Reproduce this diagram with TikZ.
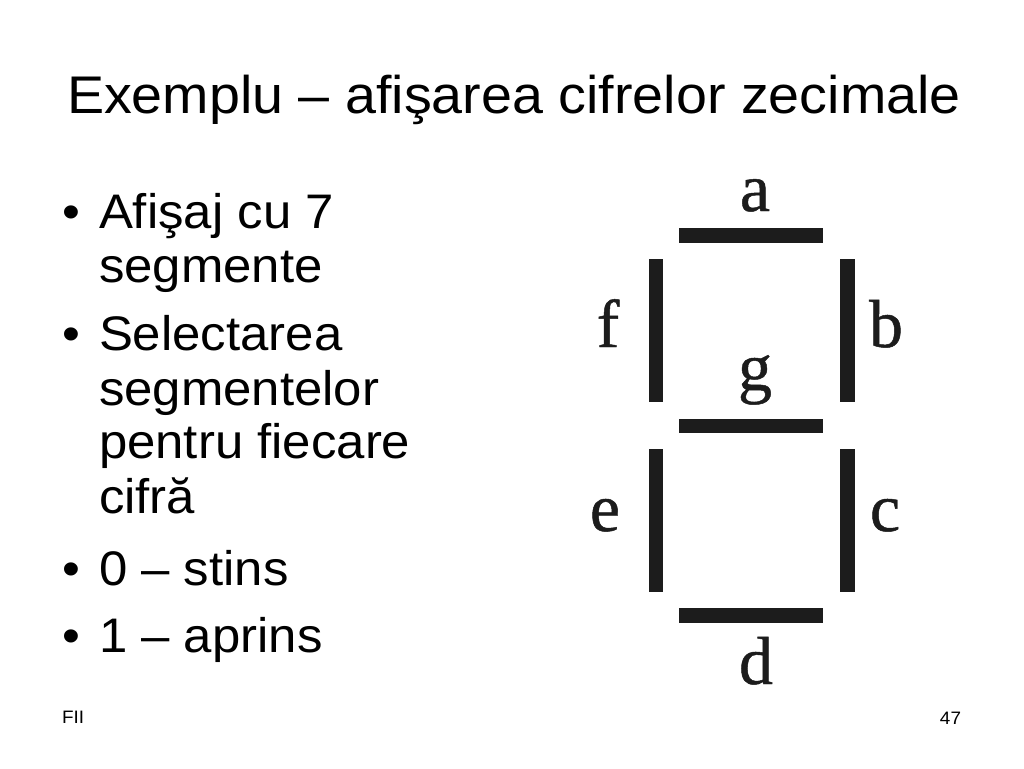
\documentclass[tikz,border=0pt]{standalone}
\usepackage{fontspec}
\setmainfont[FakeStretch=1.05]{Liberation Sans}
\newfontfamily\segfont[FakeBold=0.7]{Liberation Serif}
\definecolor{segcol}{HTML}{1C1C1C}
\begin{document}
\begin{tikzpicture}[x=1pt,y=-1pt,
  txt/.style={inner sep=0pt,outer sep=0pt,anchor=base west,font=\fontsize{48.5}{55}\selectfont},
  bul/.style={inner sep=0pt,outer sep=0pt,anchor=base,font=\fontsize{48.5}{55}\selectfont},
  seglbl/.style={inner sep=0pt,outer sep=0pt,anchor=base,text=segcol,font=\segfont\fontsize{68}{72}\selectfont},
  segbar/.style={fill=segcol,draw=none},
  foot/.style={inner sep=0pt,outer sep=0pt,font=\fontsize{18}{20}\selectfont}]
\useasboundingbox[fill=white] (0,0) rectangle (1024,768);
% title
\node[inner sep=0pt,outer sep=0pt,anchor=base west,font=\fontsize{53}{60}\selectfont] (title) at (67,113) {Exemplu – afişarea cifrelor zecimale};
% bullets
\node[bul] (b1) at (71,228) {•};
\node[txt] (l1) at (99,228) {Afişaj cu 7};
\node[txt] (l2) at (99,282) {segmente};
\node[bul] (b2) at (71,350) {•};
\node[txt] (l3) at (99,350) {Selectarea};
\node[txt] (l4) at (99,405) {segmentelor};
\node[txt] (l5) at (99,458) {pentru fiecare};
\node[txt] (l6) at (99,513) {cifră};
\node[bul] (b3) at (71,585) {•};
\node[txt] (l7) at (99,585) {0 – stins};
\node[bul] (b4) at (71,652) {•};
\node[txt] (l8) at (99,652) {1 – aprins};
% footer
\node[foot,anchor=base west] (fii) at (62,723) {FII};
\node[foot,anchor=base east] (pg) at (961,724) {47};
% seven segments
\fill[segbar] (679,228) rectangle (823,243); % a
\fill[segbar] (840,259) rectangle (855,402); % b
\fill[segbar] (840,449) rectangle (855,592); % c
\fill[segbar] (679,608) rectangle (823,623); % d
\fill[segbar] (649,449) rectangle (663,592); % e
\fill[segbar] (649,259) rectangle (663,402); % f
\fill[segbar] (679,419) rectangle (823,433); % g
% segment labels
\node[seglbl] (la) at (755,211) {a};
\node[seglbl] (lb) at (886,347) {b};
\node[seglbl] (lc) at (885,531) {c};
\node[seglbl] (ld) at (756,684) {d};
\node[seglbl] (le) at (605,531) {e};
\node[seglbl] (lf) at (608,347) {f};
\node[seglbl] (lg) at (755,390) {g};
\end{tikzpicture}
\end{document}
